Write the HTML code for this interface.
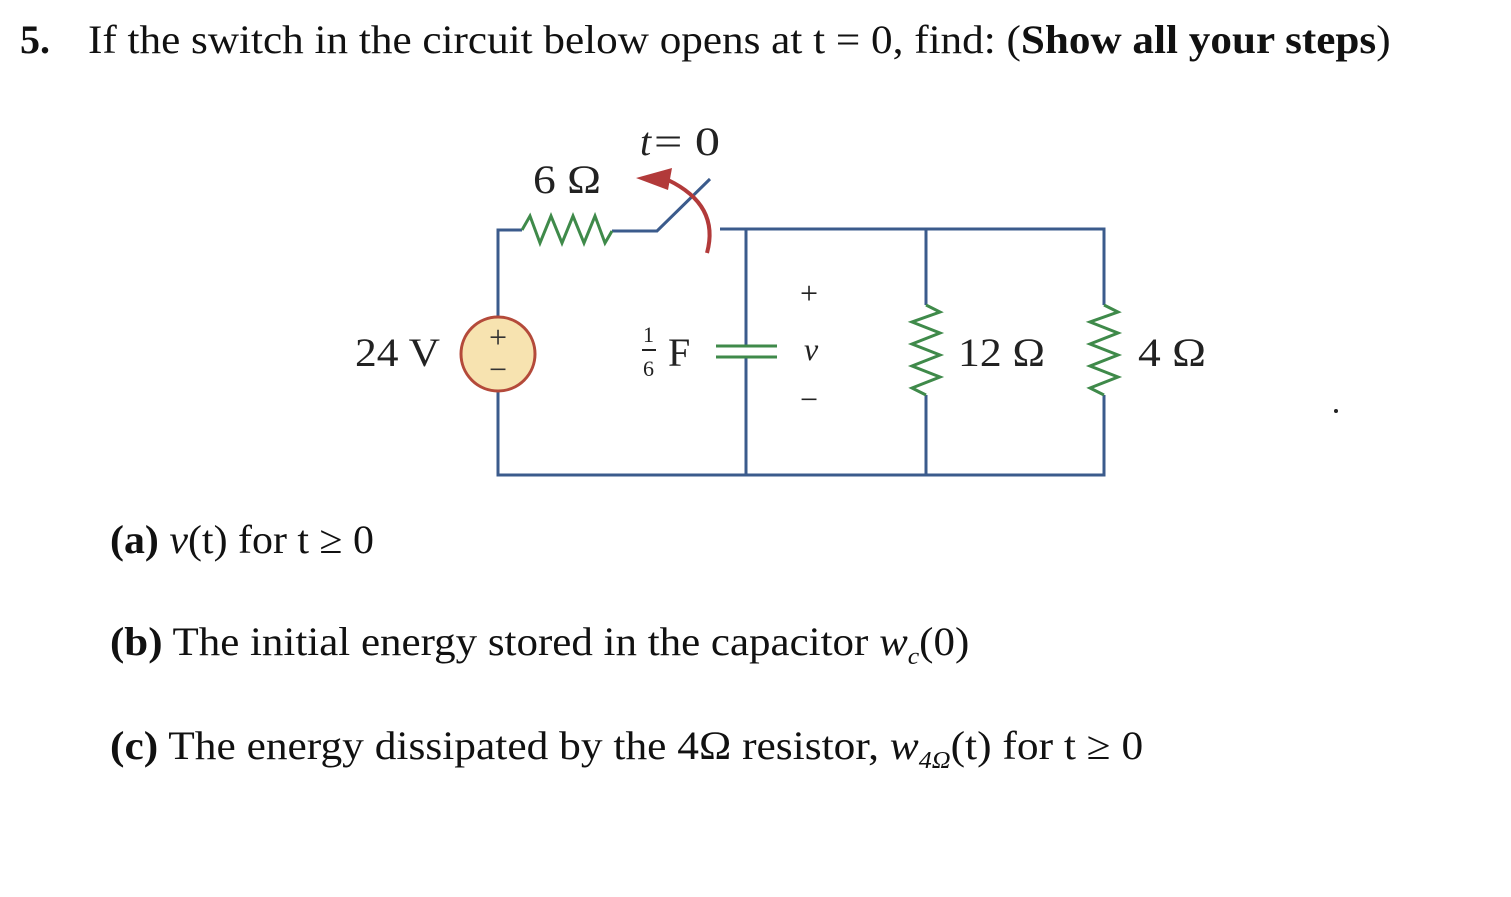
<!DOCTYPE html>
<html><head><style>
body{margin:0;width:1511px;height:897px;background:#fff;position:relative;font-family:"Liberation Serif",serif;color:#111;overflow:hidden}
.t{position:absolute;white-space:nowrap;font-size:40px;line-height:1;transform-origin:0 0}
</style></head><body>
<div class="t" style="left:20px;top:20px"><b>5.</b></div>
<div class="t" style="left:88px;top:20px;transform:scaleX(1.079)">If the switch in the circuit below opens at t = 0, find: (<b>Show all your steps</b>)</div>
<svg width="1511" height="897" style="position:absolute;left:0;top:0" font-family="Liberation Serif,serif">
<g stroke="#3b5b8c" stroke-width="3" fill="none">
<path d="M498 317 V230 H522"/>
<path d="M612 231 H657 L710 179"/>
<path d="M498 391 V475 H1104 V395"/>
<path d="M720 229 H1104 V305"/>
<path d="M746 229 V346 M746 357 V475"/>
<path d="M926 229 V305 M926 395 V475"/>
</g>
<g stroke="#3f8a4a" stroke-width="3" fill="none">
<path d="M522 230 L530 216 L540 243 L551 216 L562 243 L573 216 L584 243 L595 216 L605 243 L612 231"/>
<path d="M716 346 H777 M716 357 H777"/>
<path d="M926 305 L940 312 L912 322 L940 333 L912 344 L940 355 L912 366 L940 377 L912 388 L926 395"/>
<path d="M1104 305 L1118 312 L1090 322 L1118 333 L1090 344 L1118 355 L1090 366 L1118 377 L1090 388 L1104 395"/>
</g>
<path d="M707 253 Q720 205 668 180" stroke="#b23a3a" stroke-width="4" fill="none"/>
<polygon points="636,178 672,168 668,190" fill="#b23a3a"/>
<circle cx="498" cy="354" r="37" fill="#f7e3b0" stroke="#b44a3a" stroke-width="3"/>
<text x="498" y="348" font-size="32" text-anchor="middle" fill="#333">+</text>
<text x="498" y="380" font-size="32" text-anchor="middle" fill="#333">−</text>
<g font-size="40" fill="#222">
<text x="640" y="155" font-style="italic">t</text><text x="654" y="155" textLength="66" lengthAdjust="spacingAndGlyphs">= 0</text>
<text x="533" y="193" textLength="68" lengthAdjust="spacingAndGlyphs">6 Ω</text>
<text x="355" y="366" textLength="85" lengthAdjust="spacingAndGlyphs">24 V</text>
<text x="668" y="366">F</text>
<text x="958" y="366" textLength="87" lengthAdjust="spacingAndGlyphs">12 Ω</text>
<text x="1138" y="366" textLength="68" lengthAdjust="spacingAndGlyphs">4 Ω</text>
<text x="800" y="304" font-size="32">+</text>
<text x="804" y="360" font-size="32" font-style="italic">v</text>
<text x="800" y="410" font-size="32">−</text>
</g>
<text x="643" y="342" font-size="22" fill="#222">1</text>
<line x1="642" y1="350" x2="656" y2="350" stroke="#222" stroke-width="2"/>
<text x="643" y="376" font-size="22" fill="#222">6</text>
<circle cx="1336" cy="411" r="2" fill="#222"/>
</svg>
<div class="t" style="left:110px;top:520px;transform:scaleX(1.048)"><b>(a)</b> <i>v</i>(t) for t ≥ 0</div>
<div class="t" style="left:110px;top:622px;transform:scaleX(1.074)"><b>(b)</b> The initial energy stored in the capacitor <i>w<sub style="font-size:24px">c</sub></i>(0)</div>
<div class="t" style="left:110px;top:726px;transform:scaleX(1.085)"><b>(c)</b> The energy dissipated by the 4Ω resistor, <i>w<sub style="font-size:24px">4Ω</sub></i>(t) for t ≥ 0</div>
</body></html>
